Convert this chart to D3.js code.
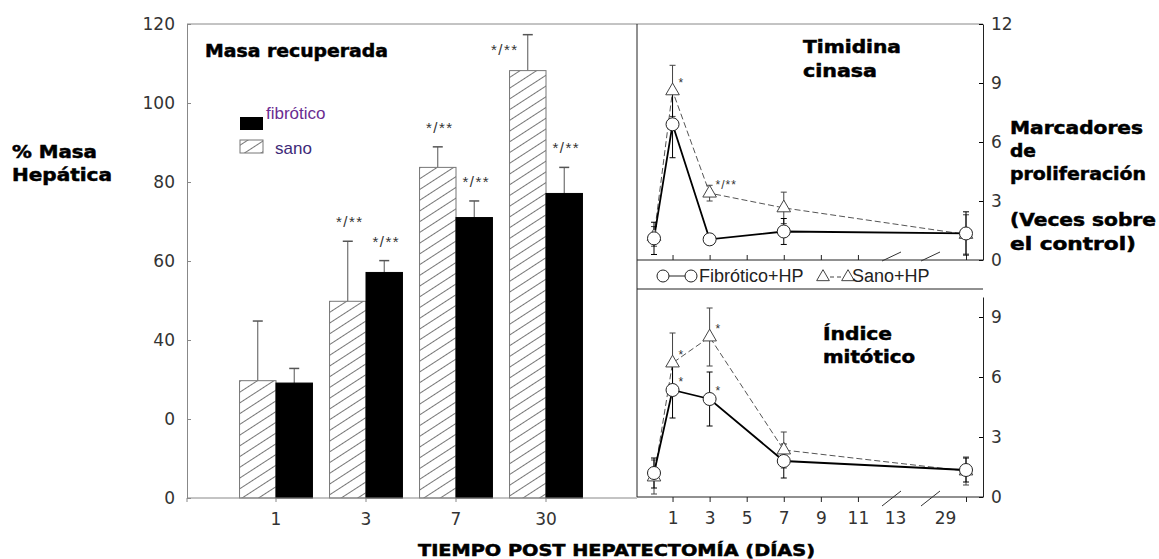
<!DOCTYPE html>
<html>
<head>
<meta charset="utf-8">
<script src="https://cdn.jsdelivr.net/npm/d3@7"></script>
<style>
body { margin: 0; background: #fff; }
</style>
</head>
<body>
<div id="chart"></div>
<script>
// masa recuperada (bars)
const groups = ["1", "3", "7", "30"];
const sanoMasa = [29.7, 49.8, 83.7, 108.2];
const sanoMasaErr = [15.1, 15.2, 5.2, 9.1];
const fibMasa = [29.1, 57.1, 71.0, 77.1];
const fibMasaErr = [3.7, 3.0, 4.2, 6.6];
const sanoMasaMarks = ["", "*/**", "*/**", "*/**"];
const fibMasaMarks = ["", "*/**", "*/**", "*/**"];
const masaTicks = [0, 20, 40, 60, 80, 100, 120];
const masaTickLabels = ["0", "0", "40", "60", "80", "100", "120"];

// marcadores de proliferacion (lines)
const days = [0, 1, 3, 7, 30];
const tkFib = [1.1, 6.9, 1.05, 1.45, 1.35];
const tkFibErr = [0.82, 1.7, 0.1, 0.66, 1.1];
const tkSano = [1.2, 8.6, 3.4, 2.65, 1.3];
const tkSanoErr = [0.5, 1.3, 0.4, 0.8, 1.0];
const tkFibMarks = ["", "", "", "", ""];
const tkSanoMarks = ["", "*", "*/**", "", ""];
const imFib = [1.2, 5.35, 4.9, 1.8, 1.35];
const imFibErr = [0.75, 1.4, 1.35, 0.85, 0.6];
const imSano = [1.0, 6.7, 8.0, 2.35, 1.3];
const imSanoErr = [0.85, 1.5, 1.45, 0.9, 0.7];
const imFibMarks = ["", "*", "*", "", ""];
const imSanoMarks = ["", "*", "*", "", ""];
const dayTicks = [1, 3, 5, 7, 9, 11, 13, 29, 30];
const topTicks = [0, 3, 6, 9, 12];
const botTicks = [0, 3, 6, 9];

const svg = d3.select("#chart").append("svg")
    .attr("width", 1159)
    .attr("height", 559)
    .style("font-family", "'Liberation Sans', Arial, sans-serif");

const defs = svg.append("defs");
const hatch = defs.append("pattern")
    .attr("id", "hatch")
    .attr("patternUnits", "userSpaceOnUse")
    .attr("width", 10)
    .attr("height", 9)
    .attr("patternTransform", "rotate(-33)");
hatch.append("rect").attr("width", 10).attr("height", 9).attr("fill", "#fff");
hatch.append("line")
    .attr("x1", 0).attr("x2", 10).attr("y1", 0.5).attr("y2", 0.5)
    .attr("stroke", "#666").attr("stroke-width", 0.9);

// bold labels, stretched to the widths in the picture
function boldText(x, y, txt, len, size) {
    svg.append("text")
        .attr("x", x).attr("y", y)
        .attr("font-family", "'DejaVu Sans', sans-serif")
        .attr("font-weight", "bold")
        .attr("font-size", size || 17)
        .attr("textLength", len)
        .attr("lengthAdjust", "spacingAndGlyphs")
        .attr("fill", "#000")
        .attr("stroke", "#000")
        .attr("stroke-width", 0.5)
        .text(txt);
}

// ---------- bar panel ----------
const barLeft = 187, barRight = 637, plotTop = 24, barBottom = 498;

const yMasa = d3.scaleLinear().domain([0, 120]).range([barBottom, plotTop]);
const xGroup = d3.scaleBand().domain(groups).range([231, 591])
    .paddingInner(0.19).paddingOuter(0.095);
const xSub = d3.scaleBand().domain(["sano", "fib"]).range([0, xGroup.bandwidth()]);

const barData = [];
groups.forEach((g, i) => {
    barData.push({g: g, s: "sano", v: sanoMasa[i], e: sanoMasaErr[i], mark: sanoMasaMarks[i]});
    barData.push({g: g, s: "fib", v: fibMasa[i], e: fibMasaErr[i], mark: fibMasaMarks[i]});
});

const barG = svg.append("g");

barG.selectAll("line.err")
    .data(barData)
    .enter().append("g")
    .each(function(d) {
        const cx = xGroup(d.g) + xSub(d.s) + xSub.bandwidth() / 2;
        const g = d3.select(this);
        g.append("line")
            .attr("x1", cx).attr("x2", cx)
            .attr("y1", yMasa(d.v)).attr("y2", yMasa(d.v + d.e))
            .attr("stroke", "#555");
        g.append("line")
            .attr("x1", cx - 5).attr("x2", cx + 5)
            .attr("y1", yMasa(d.v + d.e)).attr("y2", yMasa(d.v + d.e))
            .attr("stroke", "#555").attr("stroke-width", 1.5);
    });

barG.selectAll("rect.bar")
    .data(barData)
    .enter().append("rect")
        .attr("class", "bar")
        .attr("x", d => xGroup(d.g) + xSub(d.s))
        .attr("y", d => yMasa(d.v))
        .attr("width", xSub.bandwidth())
        .attr("height", d => yMasa(0) - yMasa(d.v))
        .attr("fill", d => d.s == "fib" ? "#000" : "url(#hatch)")
        .attr("stroke", d => d.s == "fib" ? "#000" : "#777")
        .attr("stroke-width", 1);

// significance marks over the bars
barG.selectAll("text.mark")
    .data(barData.filter(d => d.mark != ""))
    .enter().append("text")
        .attr("class", "mark")
        .attr("x", d => {
            const cx = xGroup(d.g) + xSub(d.s) + xSub.bandwidth() / 2;
            return yMasa(d.v + d.e) - 14 < 45 ? cx - 23 : cx + 2;
        })
        .attr("y", d => yMasa(d.v + d.e) - 14 < 45 ? yMasa(d.v + d.e) + 20 : yMasa(d.v + d.e) - 14)
        .attr("text-anchor", "middle")
        .attr("font-size", 15)
        .attr("letter-spacing", 1.5)
        .attr("fill", "#333")
        .text(d => d.mark);

// axes of bar panel
const yAxisG = svg.append("g")
    .attr("transform", `translate(${barLeft},0)`)
    .call(d3.axisLeft(yMasa).tickValues(masaTicks)
        .tickFormat((d, i) => masaTickLabels[i])
        .tickSizeInner(-4).tickSizeOuter(0).tickPadding(12));
yAxisG.select(".domain").attr("stroke", "#888");
yAxisG.selectAll(".tick line").attr("stroke", "#888");
yAxisG.selectAll("text")
    .attr("font-family", "'DejaVu Sans', sans-serif")
    .attr("font-size", 17)
    .attr("fill", "#333");

const xAxisG = svg.append("g")
    .attr("transform", `translate(0,${barBottom})`)
    .call(d3.axisBottom(xGroup).tickSizeInner(4).tickSizeOuter(0).tickPadding(11));
xAxisG.select(".domain").remove();
xAxisG.selectAll(".tick line").attr("stroke", "#888");
xAxisG.selectAll("text")
    .attr("font-family", "'DejaVu Sans', sans-serif")
    .attr("font-size", 17)
    .attr("fill", "#333");
xAxisG.append("line")
    .attr("x1", barLeft).attr("x2", barRight)
    .attr("stroke", "#888");
xAxisG.append("line")
    .attr("x1", barLeft).attr("x2", barLeft).attr("y2", 4)
    .attr("stroke", "#888");

svg.append("line")
    .attr("x1", barLeft).attr("x2", 983)
    .attr("y1", plotTop).attr("y2", plotTop)
    .attr("stroke", "#888");

// legend of bar panel
svg.append("rect").attr("x", 240).attr("y", 117).attr("width", 23).attr("height", 13).attr("fill", "#000");
svg.append("rect").attr("x", 240).attr("y", 140).attr("width", 23).attr("height", 13)
    .attr("fill", "url(#hatch)").attr("stroke", "#777");
svg.append("text").attr("x", 266).attr("y", 119).attr("font-size", 17)
    .attr("fill", "#6a2c91").text("fibrótico");
svg.append("text").attr("x", 275).attr("y", 154).attr("font-size", 17)
    .attr("fill", "#3d2a78").text("sano");

// ---------- right panels ----------
const rLeft = 637, rRight = 983, topAxisY = 260, legBottom = 289, botAxisY = 497;

const xR = d3.scaleLinear().domain([0, 13, 29, 31]).range([654, 895, 945, 987]);
const yTop = d3.scaleLinear().domain([0, 12]).range([topAxisY, plotTop]);
const yBot = d3.scaleLinear().domain([0, 10]).range([botAxisY, botAxisY - 200]);

// frame
svg.append("line").attr("x1", rLeft).attr("x2", rLeft).attr("y1", plotTop).attr("y2", botAxisY)
    .attr("stroke", "#222");
svg.append("line").attr("x1", rLeft).attr("x2", rRight).attr("y1", legBottom).attr("y2", legBottom)
    .attr("stroke", "#222");

function rightAxis(y, ticks) {
    const g = svg.append("g")
        .attr("transform", `translate(${rRight},0)`)
        .call(d3.axisRight(y).tickValues(ticks)
            .tickSizeInner(-4).tickSizeOuter(0).tickPadding(8));
    g.select(".domain").attr("stroke", "#222");
    g.selectAll("text")
        .attr("font-family", "'DejaVu Sans', sans-serif")
        .attr("font-size", 17)
        .attr("fill", "#333");
}
rightAxis(yTop, topTicks);
rightAxis(yBot, botTicks);

// x axis of the upper panel: ticks inside, no labels
const topX = svg.append("g")
    .attr("transform", `translate(0,${topAxisY})`)
    .call(d3.axisBottom(xR).tickValues(dayTicks.filter(d => d != 13 && d != 29))
        .tickSizeInner(-5).tickSizeOuter(0).tickFormat(""));
topX.select(".domain").attr("d", `M${rLeft},0H${rRight}`).attr("stroke", "#222");
topX.selectAll(".tick line").attr("stroke", "#222");

// x axis of the lower panel
const botX = svg.append("g")
    .attr("transform", `translate(0,${botAxisY})`)
    .call(d3.axisBottom(xR).tickValues(dayTicks)
        .tickSizeInner(5).tickSizeOuter(0).tickPadding(10)
        .tickFormat(d => d == 30 ? "" : d));
botX.select(".domain").attr("d", `M${rLeft},0H${rRight}`).attr("stroke", "#222");
botX.selectAll(".tick line")
    .attr("stroke", "#222")
    .attr("opacity", d => (d == 13 || d == 29) ? 0 : 1);
botX.selectAll("text")
    .attr("font-family", "'DejaVu Sans', sans-serif")
    .attr("font-size", 17)
    .attr("fill", "#333");

// axis break slashes
[xR(13) - 3, xR(13) + 36].forEach(x => {
    svg.append("line").attr("x1", x - 10).attr("x2", x + 9)
        .attr("y1", topAxisY + 1).attr("y2", topAxisY - 8).attr("stroke", "#333");
    svg.append("line").attr("x1", x - 10).attr("x2", x + 9)
        .attr("y1", botAxisY + 9).attr("y2", botAxisY - 6).attr("stroke", "#333");
});

function drawSeries(y, vals, errs, marks, kind) {
    const pts = days.map((d, i) => ({d: d, v: vals[i], e: errs[i], m: marks[i]}));
    const line = d3.line().x(p => xR(p.d)).y(p => y(p.v));
    svg.append("path")
        .datum(pts)
        .attr("d", line)
        .attr("fill", "none")
        .attr("stroke", kind == "fib" ? "#000" : "#555")
        .attr("stroke-width", kind == "fib" ? 1.8 : 1)
        .attr("stroke-dasharray", kind == "fib" ? null : "6,3");
    const eg = svg.append("g").attr("stroke", kind == "fib" ? "#000" : "#444");
    pts.forEach(p => {
        const x = xR(p.d);
        eg.append("line").attr("x1", x).attr("x2", x).attr("y1", y(p.v - p.e)).attr("y2", y(p.v + p.e));
        eg.append("line").attr("x1", x - 3).attr("x2", x + 3).attr("y1", y(p.v - p.e)).attr("y2", y(p.v - p.e));
        eg.append("line").attr("x1", x - 3).attr("x2", x + 3).attr("y1", y(p.v + p.e)).attr("y2", y(p.v + p.e));
    });
    return pts;
}

function drawMarkers(y, pts, kind) {
    const sel = svg.append("g").selectAll("path.pt").data(pts).enter();
    if (kind == "fib") {
        sel.append("circle")
            .attr("cx", p => xR(p.d)).attr("cy", p => y(p.v)).attr("r", 6.5)
            .attr("fill", "#fff").attr("stroke", "#222");
    } else {
        sel.append("path")
            .attr("d", d3.symbol(d3.symbolTriangle).size(80))
            .attr("transform", p => `translate(${xR(p.d)},${y(p.v)})`)
            .attr("fill", "#fff").attr("stroke", "#444");
    }
    svg.append("g").selectAll("text").data(pts.filter(p => p.m != "")).enter()
        .append("text")
            .attr("x", p => xR(p.d) + 6)
            .attr("y", p => y(p.v) - 4)
            .attr("font-size", 12)
            .attr("letter-spacing", 1)
            .attr("fill", "#333")
            .text(p => p.m);
}

const tkS = drawSeries(yTop, tkSano, tkSanoErr, tkSanoMarks, "sano");
const tkF = drawSeries(yTop, tkFib, tkFibErr, tkFibMarks, "fib");
drawMarkers(yTop, tkS, "sano");
drawMarkers(yTop, tkF, "fib");

const imS = drawSeries(yBot, imSano, imSanoErr, imSanoMarks, "sano");
const imF = drawSeries(yBot, imFib, imFibErr, imFibMarks, "fib");
drawMarkers(yBot, imS, "sano");
drawMarkers(yBot, imF, "fib");

// legend box between the panels
const leg = svg.append("g");
leg.append("line").attr("x1", 663).attr("x2", 691).attr("y1", 276).attr("y2", 276).attr("stroke", "#222");
[663, 691].forEach(x => leg.append("circle").attr("cx", x).attr("cy", 276).attr("r", 6)
    .attr("fill", "#fff").attr("stroke", "#222"));
leg.append("text").attr("x", 699).attr("y", 282).attr("font-size", 18).attr("fill", "#222")
    .text("Fibrótico+HP");
leg.append("line").attr("x1", 823).attr("x2", 848).attr("y1", 277).attr("y2", 277)
    .attr("stroke", "#444").attr("stroke-dasharray", "4,3");
[823, 848].forEach(x => leg.append("path")
    .attr("d", d3.symbol(d3.symbolTriangle).size(70))
    .attr("transform", `translate(${x},277)`)
    .attr("fill", "#fff").attr("stroke", "#444"));
leg.append("text").attr("x", 852).attr("y", 282).attr("font-size", 18).attr("fill", "#222")
    .text("Sano+HP");

// titles and axis labels
boldText(205, 57, "Masa recuperada", 183);
boldText(12, 158, "% Masa", 85);
boldText(12, 181, "Hepática", 100);
boldText(803, 53, "Timidina", 98);
boldText(803, 77, "cinasa", 74);
boldText(823, 340, "Índice", 69);
boldText(823, 363, "mitótico", 92);
boldText(1010, 134, "Marcadores", 133);
boldText(1010, 157, "de", 26);
boldText(1010, 180, "proliferación", 136);
boldText(1010, 226, "(Veces sobre", 146);
boldText(1010, 250, "el control)", 126);
boldText(418, 556, "TIEMPO POST HEPATECTOMÍA (DÍAS)", 397, 15);
</script>
</body>
</html>
